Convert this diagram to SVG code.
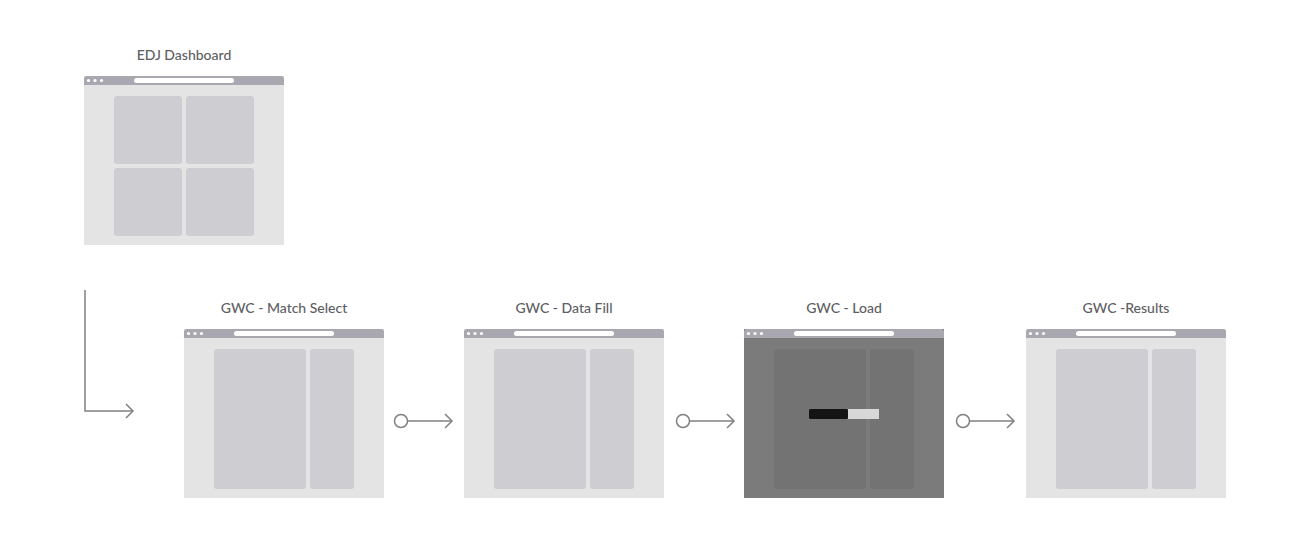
<svg xmlns="http://www.w3.org/2000/svg" width="1289" height="543" viewBox="0 0 1289 543">
<defs>
<style>
.bg{fill:#ffffff}
.win{fill:#e4e4e4}
.winDark{fill:#7b7b7b}
.bar{fill:#a9a8b0}
.dot{fill:#ffffff}
.addr{fill:#ffffff}
.panel{fill:#cecdd2}
.panelDark{fill:#737373}
.title{font-family:Lato,"Liberation Sans",sans-serif;font-size:14px;font-weight:500;fill:#5d5e63;text-anchor:middle}
.conn{fill:none;stroke:#808080;stroke-width:1.5}
</style>
<marker id="arrow" viewBox="0 0 10 16" refX="8.5" refY="8" markerWidth="10" markerHeight="16" markerUnits="userSpaceOnUse" orient="auto">
<path d="M1.5,1 L8.5,8 L1.5,15" fill="none" stroke="#808080" stroke-width="1.5"/>
</marker>
<symbol id="chrome" overflow="visible">
<path class="bar" d="M0,9 V3 A3,3 0 0 1 3,0 H197 A3,3 0 0 1 200,3 V9 Z"/>
<circle class="dot" cx="4.5" cy="4.5" r="1.6"/>
<circle class="dot" cx="11" cy="4.5" r="1.6"/>
<circle class="dot" cx="17.5" cy="4.5" r="1.6"/>
<rect class="addr" x="50" y="2" width="100" height="5" rx="2.5"/>
</symbol>
</defs>
<rect class="bg" width="1289" height="543"/>

<g id="edj-dashboard">
<text class="title" x="184" y="60">EDJ Dashboard</text>
<rect class="win" x="84" y="76" width="200" height="169"/>
<use href="#chrome" x="84" y="76"/>
<rect class="panel" x="114" y="96" width="68" height="68" rx="3"/>
<rect class="panel" x="186" y="96" width="68" height="68" rx="3"/>
<rect class="panel" x="114" y="168" width="68" height="68" rx="3"/>
<rect class="panel" x="186" y="168" width="68" height="68" rx="3"/>
</g>

<g id="gwc-match-select">
<text class="title" x="284" y="313">GWC - Match Select</text>
<rect class="win" x="184" y="329" width="200" height="169"/>
<use href="#chrome" x="184" y="329"/>
<rect class="panel" x="214" y="349" width="92" height="140" rx="3"/>
<rect class="panel" x="310" y="349" width="44" height="140" rx="3"/>
</g>

<g id="gwc-data-fill">
<text class="title" x="564" y="313">GWC - Data Fill</text>
<rect class="win" x="464" y="329" width="200" height="169"/>
<use href="#chrome" x="464" y="329"/>
<rect class="panel" x="494" y="349" width="92" height="140" rx="3"/>
<rect class="panel" x="590" y="349" width="44" height="140" rx="3"/>
</g>

<g id="gwc-load">
<text class="title" x="844" y="313">GWC - Load</text>
<rect class="winDark" x="744" y="329" width="200" height="169"/>
<use href="#chrome" x="744" y="329"/>
<rect class="panelDark" x="774" y="349" width="92" height="140" rx="3"/>
<rect class="panelDark" x="870" y="349" width="44" height="140" rx="3"/>
<rect x="809" y="409" width="70" height="10" fill="#d8d8d8"/>
<rect x="809" y="409" width="39" height="10" rx="1" fill="#141414"/>
</g>

<g id="gwc-results">
<text class="title" x="1126" y="313">GWC -Results</text>
<rect class="win" x="1026" y="329" width="200" height="169"/>
<use href="#chrome" x="1026" y="329"/>
<rect class="panel" x="1056" y="349" width="92" height="140" rx="3"/>
<rect class="panel" x="1152" y="349" width="44" height="140" rx="3"/>
</g>

<g id="connectors">
<path class="conn" d="M85,290 V411 H133" marker-end="url(#arrow)"/>
<circle class="conn" cx="401" cy="421" r="6.5"/>
<path class="conn" d="M407.5,421 H452" marker-end="url(#arrow)"/>
<circle class="conn" cx="683" cy="421" r="6.5"/>
<path class="conn" d="M689.5,421 H734" marker-end="url(#arrow)"/>
<circle class="conn" cx="963" cy="421" r="6.5"/>
<path class="conn" d="M969.5,421 H1014" marker-end="url(#arrow)"/>
</g>
</svg>
